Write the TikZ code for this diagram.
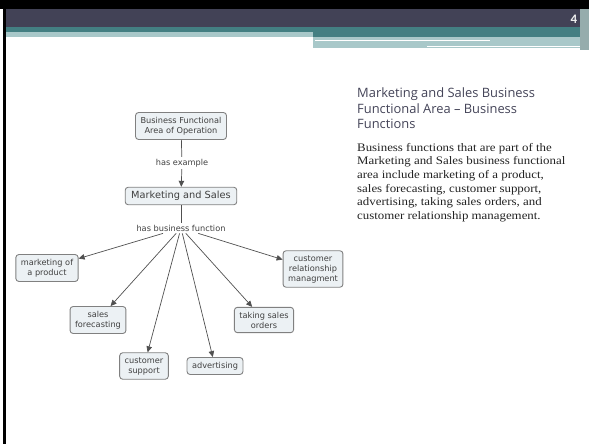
\documentclass[tikz,border=0pt]{standalone}
\usepackage{fontspec}
\setmainfont{Liberation Serif}
\newfontfamily\bodyfont[FakeStretch=1.12]{Liberation Serif}
\newfontfamily\mapfont{DejaVu Sans}
\newfontfamily\headfont{Open Sans}
\newfontfamily\numfont{Carlito}
\usetikzlibrary{arrows.meta, positioning}
\definecolor{hdrslate}{RGB}{66,66,86}
\definecolor{hdrteal}{RGB}{67,127,130}
\definecolor{hdrlight}{RGB}{168,200,201}
\definecolor{hdrstrip}{RGB}{150,172,172}
\definecolor{boxgray}{RGB}{128,128,128}
\definecolor{boxfill}{RGB}{236,241,244}
\definecolor{linkgray}{RGB}{80,80,80}
\definecolor{headgray}{RGB}{68,68,88}
\definecolor{bodydark}{RGB}{34,34,34}
\tikzset{
  concept/.style={rectangle, draw=boxgray, fill=boxfill,
    align=center, rounded corners=3pt, line width=0.9pt,
    inner xsep=5pt, inner ysep=4.5pt,
    font=\mapfont\fontsize{8.2}{10}\selectfont, text=black!75},
  bigconcept/.style={concept, inner xsep=6pt, inner ysep=4pt,
    font=\mapfont\fontsize{9.8}{11}\selectfont},
  linklabel/.style={fill=white, inner xsep=1pt, inner ysep=2pt,
    font=\mapfont\fontsize{8.2}{10}\selectfont, text=black!75},
  arrow/.style={-{Triangle[length=6pt, width=5.5pt]}, line width=0.7pt, color=linkgray},
  line/.style={line width=0.7pt, color=linkgray}
}

\begin{document}
\begin{tikzpicture}[x=1pt, y=-1pt]
  \useasboundingbox (0,0) rectangle (589,444);

  % Slide frame and header bands
  \fill[black] (0,0) rectangle (589,9);
  \fill[black] (3,0) rectangle (6,444);
  \fill[hdrslate] (6,9) rectangle (580,27);
  \fill[hdrteal] (6,27) rectangle (580,32);
  \fill[hdrlight] (6,32) rectangle (313,37);
  \fill[hdrteal] (313,32) rectangle (580,37);
  \fill[hdrlight] (313,37) rectangle (580,48);
  \draw[white, line width=0.8pt] (315,40.5) -- (490,40.5);
  \draw[white, line width=0.8pt] (427,46.5) -- (580,46.5);
  \fill[hdrstrip] (580,9) rectangle (589,50);
  \node[font=\numfont\bfseries\fontsize{13}{13}\selectfont, text=white!88!gray] (pgno) at (574,19) {4};

  % Concept map nodes
  \node[concept] (bfa) at (181,126) {Business Functional\\Area of Operation};
  \node[linklabel] (hasex) at (182,163) {has example};
  \node[bigconcept] (ms) at (181,196) {Marketing and Sales};
  \node[linklabel] (hbf) at (181,228) {has business function};
  \node[concept] (mkt) at (47,268) {marketing of\\a product};
  \node[concept] (sf) at (98,320) {sales\\forecasting};
  \node[concept] (cs) at (144,366) {customer\\support};
  \node[concept] (adv) at (215,366) {advertising};
  \node[concept] (tso) at (264,320) {taking sales\\orders};
  \node[concept] (crm) at (313,269) {customer\\relationship\\managment};

  % Links
  \draw[line] (bfa) -- (hasex);
  \draw[arrow] (hasex) -- (ms);
  \draw[line] (ms) -- (hbf);
  \foreach \target in {mkt, sf, cs, adv, tso, crm}
    \draw[arrow] (hbf) -- (\target);

  % Slide text
  \node[anchor=north west, align=left, inner sep=0pt, text=headgray,
    font=\headfont\fontsize{12.9}{15.5}\selectfont] (title) at (357,87.5)
    {Marketing and Sales Business\\Functional Area – Business\\Functions};
  \node[anchor=north west, align=left, inner sep=0pt, text=bodydark,
    font=\bodyfont\fontsize{11.5}{13.6}\selectfont] (body) at (357,143)
    {Business functions that are part of the\\
     Marketing and Sales business functional\\
     area include marketing of a product,\\
     sales forecasting, customer support,\\
     advertising, taking sales orders, and\\
     customer relationship management.};
\end{tikzpicture}
\end{document}
